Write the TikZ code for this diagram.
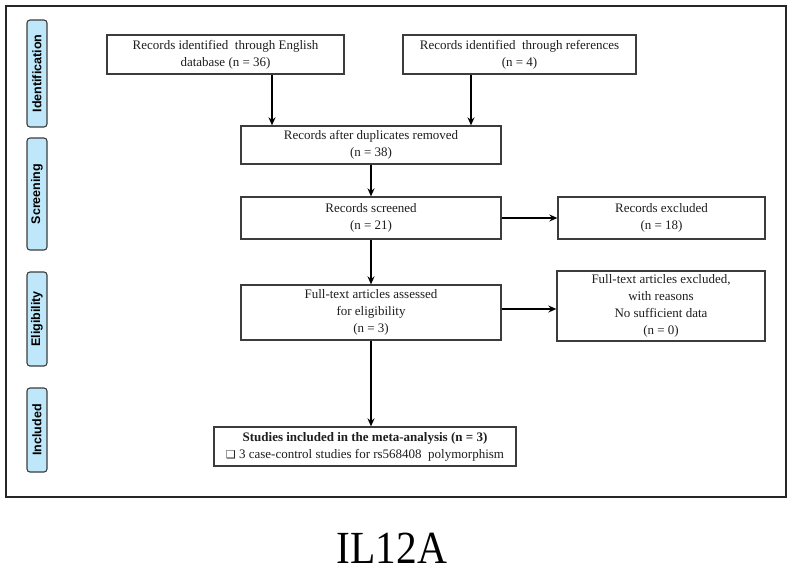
\documentclass[tikz,border=0pt]{standalone}
\usepackage{fontspec}
\setmainfont{Liberation Serif}
\newfontfamily\labfont{Liberation Sans}
\newfontfamily\djv{DejaVu Sans}
\usetikzlibrary{arrows.meta,calc}
\definecolor{boxline}{RGB}{60,60,60}
\definecolor{labfill}{RGB}{190,232,250}
\definecolor{txt}{RGB}{30,30,30}
\tikzset{
  flowbox/.style={draw=boxline, line width=1.3pt, fill=white, align=center, inner sep=0pt,
    text=txt, font=\fontsize{13}{17}\selectfont},
  sidelab/.style={draw=boxline, line width=1.1pt, fill=labfill, rounded corners=3pt, rotate=90,
    inner sep=0pt, minimum height=20pt, font=\labfont\bfseries\fontsize{12.5}{14}\selectfont},
  arr/.style={line width=1.7pt, -{Stealth[length=8pt,width=7pt]}},
}
\begin{document}
\begin{tikzpicture}[x=1pt,y=-1pt]
\useasboundingbox (0,0) rectangle (794,571);
\draw[line width=2pt, black!85] (6,6) rectangle (786,497);

% side labels
\node[sidelab, minimum width=107pt] (lid) at (37,73.5) {Identification};
\node[sidelab, minimum width=112pt] (lsc) at (37,194) {Screening};
\node[sidelab, minimum width=94pt] (lel) at (37,319) {Eligibility};
\node[sidelab, minimum width=84pt] (lin) at (37,430) {Included};

% boxes
\node[flowbox, minimum width=237pt, minimum height=39pt] (eng) at (225.5,54.5)
  {Records identified\ \ through English\\database (n = 36)};
\node[flowbox, minimum width=233pt, minimum height=39pt] (ref) at (519.5,54.5)
  {Records identified\ \ through references\\(n = 4)};
\node[flowbox, minimum width=260pt, minimum height=38pt] (dup) at (371,145)
  {Records after duplicates removed\\(n = 38)};
\node[flowbox, minimum width=260pt, minimum height=42pt] (scr) at (371,218)
  {Records screened\\(n = 21)};
\node[flowbox, minimum width=207pt, minimum height=42pt] (exc) at (661.5,218)
  {Records excluded\\(n = 18)};
\node[flowbox, minimum width=260pt, minimum height=55pt] (ft) at (371,312.5)
  {Full-text articles assessed\\for eligibility\\(n = 3)};
\node[flowbox, minimum width=208pt, minimum height=70pt] (exr) at (661,306)
  {Full-text articles excluded,\\with reasons\\No sufficient data\\(n = 0)};
\node[flowbox, minimum width=302pt, minimum height=39pt] (inc) at (365,446.5)
  {\textbf{Studies included in the meta-analysis (n = 3)}\\{\djv\fontsize{11}{13}\selectfont ❑} 3 case-control studies for rs568408\ \ polymorphism};

% title
\node[anchor=base, inner sep=0pt, text depth=0pt, font=\fontsize{46}{50}\selectfont] (title) at (392,563)
  {\scalebox{0.9}[1]{IL12A}};

% connectors
\coordinate (a1) at ([xshift=46.5pt]eng.south);
\draw[arr] (a1) -- (a1 |- dup.north);
\coordinate (a2) at ([xshift=-48.5pt]ref.south);
\draw[arr] (a2) -- (a2 |- dup.north);
\draw[arr] (dup.south) -- (scr.north);
\draw[arr] (scr.east) -- (exc.west);
\draw[arr] (scr.south) -- (ft.north);
\coordinate (a3) at ([yshift=3.5pt]ft.east);
\draw[arr] (a3) -- (a3 -| exr.west);
\draw[arr] (ft.south) -- (ft.south |- inc.north);
\end{tikzpicture}
\end{document}
